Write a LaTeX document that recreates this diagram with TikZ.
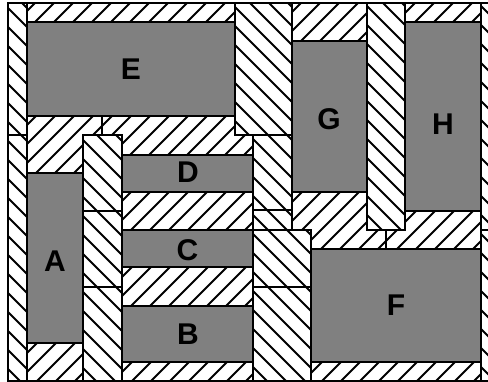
\documentclass[tikz,border=0pt]{standalone}
\usepackage{fontspec}
\setmainfont{Liberation Sans}
\definecolor{boxgray}{RGB}{128,128,128}
\tikzset{
  outl/.style={draw=black,line width=1.2pt},
  hatchline/.style={line width=1.8pt,draw=black},
  graybox/.style={fill=boxgray,draw=black,line width=1.2pt},
  lbl/.style={font=\bfseries\fontsize{30}{30}\selectfont,text=black,inner sep=0pt}
}
% "/" hatching: lines x+y=c (y grows downward)
\newcommand\hatchNE[4]{%
  \begin{scope}
    \clip (#1,#2) rectangle (#3,#4);
    \fill[white] (#1,#2) rectangle (#3,#4);
    \pgfmathtruncatemacro\kA{floor((#1+#2)/19)-1}
    \pgfmathtruncatemacro\kB{ceil((#3+#4)/19)+1}
    \foreach \k in {\kA,...,\kB}{
      \draw[hatchline] ({\k*19-#4},#4) -- ({\k*19-#2},#2);
    }
  \end{scope}
  \draw[outl] (#1,#2) rectangle (#3,#4);}
% "\" hatching: lines x-y=c
\newcommand\hatchSE[4]{%
  \begin{scope}
    \clip (#1,#2) rectangle (#3,#4);
    \fill[white] (#1,#2) rectangle (#3,#4);
    \pgfmathtruncatemacro\kA{floor((#1-#4)/19)-1}
    \pgfmathtruncatemacro\kB{ceil((#3-#2)/19)+1}
    \foreach \k in {\kA,...,\kB}{
      \draw[hatchline] ({\k*19+#2},#2) -- ({\k*19+#4},#4);
    }
  \end{scope}
  \draw[outl] (#1,#2) rectangle (#3,#4);}
\begin{document}
\begin{tikzpicture}[x=1pt,y=-1pt]
\useasboundingbox (0,0) rectangle (488,381);
\clip (0,0) rectangle (488,381);
\fill[white] (0,0) rectangle (488,381);
% "/" hatched blocks
\hatchNE{27}{3}{235}{116}
\hatchNE{27}{116}{102}{381}
\hatchNE{102}{116}{253}{381}
\hatchNE{292}{3}{386}{249}
\hatchNE{386}{3}{481}{249}
\hatchNE{311}{249}{481}{381}
% gray modules
\draw[graybox] (27,22) rectangle (235,116);
\draw[graybox] (27,173) rectangle (83,343);
\draw[graybox] (122,155) rectangle (253,192);
\draw[graybox] (122,230) rectangle (253,267);
\draw[graybox] (122,306) rectangle (253,362);
\draw[graybox] (292,41) rectangle (367,192);
\draw[graybox] (405,22) rectangle (481,211);
\draw[graybox] (311,249) rectangle (481,362);
% "\" hatched strips
\hatchSE{8}{3}{27}{135}
\hatchSE{8}{135}{27}{381}
\hatchSE{235}{3}{292}{135}
\hatchSE{83}{135}{122}{211}
\hatchSE{83}{211}{122}{287}
\hatchSE{83}{287}{122}{381}
\hatchSE{253}{135}{292}{210}
\hatchSE{253}{210}{292}{230}
\hatchSE{253}{230}{311}{287}
\hatchSE{253}{287}{311}{381}
\hatchSE{367}{3}{405}{230}
\hatchSE{481}{3}{500}{230}
\hatchSE{481}{230}{500}{381}
% labels
\node[lbl] (labE) at (131,69.5) {E};
\node[lbl] (labG) at (329,119.5) {G};
\node[lbl] (labH) at (443,124) {H};
\node[lbl] (labD) at (188,172.5) {D};
\node[lbl] (labC) at (187.5,250) {C};
\node[lbl] (labB) at (188,334) {B};
\node[lbl] (labA) at (55,261) {A};
\node[lbl] (labF) at (396,305) {F};
\end{tikzpicture}
\end{document}
